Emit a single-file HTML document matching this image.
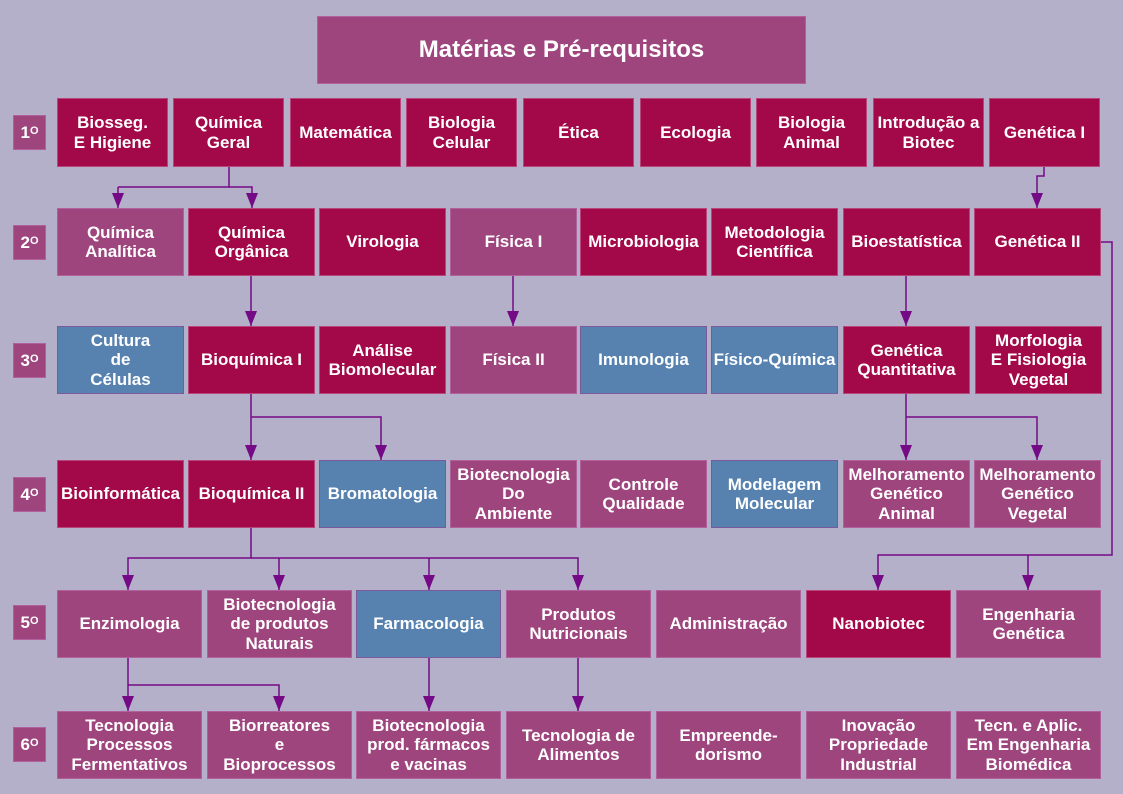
<!DOCTYPE html>
<html><head><meta charset="utf-8"><style>
body{margin:0;width:1123px;height:794px;background:#b4b0c9;position:relative;overflow:hidden;font-family:"Liberation Sans",sans-serif;}
.b{position:absolute;box-sizing:border-box;border:1px solid #b35a8c;color:#fff;font-weight:bold;font-size:17px;line-height:19.5px;display:flex;align-items:center;justify-content:center;text-align:center;white-space:nowrap;}
.d{background:#a30849;border-color:#b8467a}
.l{background:#9e457e;border-color:#b0609a}
.u{background:#5782b0;border-color:#7a5a9a}
.s{position:absolute;left:13px;width:33px;height:35px;background:#9e457e;border:1px solid #b0609a;box-sizing:border-box;color:#fff;font-weight:bold;font-size:17px;display:flex;align-items:center;justify-content:center}
.s sup{font-size:11px;position:relative;top:-2px}
svg{position:absolute;left:0;top:0}
</style></head><body>
<div class="b l" style="left:317px;top:16px;width:489px;height:68px;font-size:24px">Matérias e Pré-requisitos</div>

<div class="s" style="top:115px">1<sup>O</sup></div>
<div class="s" style="top:225px">2<sup>O</sup></div>
<div class="s" style="top:343px">3<sup>O</sup></div>
<div class="s" style="top:477px">4<sup>O</sup></div>
<div class="s" style="top:605px">5<sup>O</sup></div>
<div class="s" style="top:727px">6<sup>O</sup></div>

<!-- row1 -->
<div class="b d" style="left:57px;top:98px;width:111px;height:69px">Biosseg.<br>E Higiene</div>
<div class="b d" style="left:173px;top:98px;width:111px;height:69px">Química<br>Geral</div>
<div class="b d" style="left:290px;top:98px;width:111px;height:69px">Matemática</div>
<div class="b d" style="left:406px;top:98px;width:111px;height:69px">Biologia<br>Celular</div>
<div class="b d" style="left:523px;top:98px;width:111px;height:69px">Ética</div>
<div class="b d" style="left:640px;top:98px;width:111px;height:69px">Ecologia</div>
<div class="b d" style="left:756px;top:98px;width:111px;height:69px">Biologia<br>Animal</div>
<div class="b d" style="left:873px;top:98px;width:111px;height:69px">Introdução a<br>Biotec</div>
<div class="b d" style="left:989px;top:98px;width:111px;height:69px">Genética I</div>
<!-- row2 -->
<div class="b l" style="left:57px;top:208px;width:127px;height:68px">Química<br>Analítica</div>
<div class="b d" style="left:188px;top:208px;width:127px;height:68px">Química<br>Orgânica</div>
<div class="b d" style="left:319px;top:208px;width:127px;height:68px">Virologia</div>
<div class="b l" style="left:450px;top:208px;width:127px;height:68px">Física I</div>
<div class="b d" style="left:580px;top:208px;width:127px;height:68px">Microbiologia</div>
<div class="b d" style="left:711px;top:208px;width:127px;height:68px">Metodologia<br>Científica</div>
<div class="b d" style="left:843px;top:208px;width:127px;height:68px">Bioestatística</div>
<div class="b d" style="left:974px;top:208px;width:127px;height:68px">Genética II</div>
<!-- row3 -->
<div class="b u" style="left:57px;top:326px;width:127px;height:68px">Cultura<br>de<br>Células</div>
<div class="b d" style="left:188px;top:326px;width:127px;height:68px">Bioquímica I</div>
<div class="b d" style="left:319px;top:326px;width:127px;height:68px">Análise<br>Biomolecular</div>
<div class="b l" style="left:450px;top:326px;width:127px;height:68px">Física II</div>
<div class="b u" style="left:580px;top:326px;width:127px;height:68px">Imunologia</div>
<div class="b u" style="left:711px;top:326px;width:127px;height:68px">Físico-Química</div>
<div class="b d" style="left:843px;top:326px;width:127px;height:68px">Genética<br>Quantitativa</div>
<div class="b d" style="left:975px;top:326px;width:127px;height:68px">Morfologia<br>E Fisiologia<br>Vegetal</div>
<!-- row4 -->
<div class="b d" style="left:57px;top:460px;width:127px;height:68px">Bioinformática</div>
<div class="b d" style="left:188px;top:460px;width:127px;height:68px">Bioquímica II</div>
<div class="b u" style="left:319px;top:460px;width:127px;height:68px">Bromatologia</div>
<div class="b l" style="left:450px;top:460px;width:127px;height:68px">Biotecnologia<br>Do<br>Ambiente</div>
<div class="b l" style="left:580px;top:460px;width:127px;height:68px">Controle<br>Qualidade</div>
<div class="b u" style="left:711px;top:460px;width:127px;height:68px">Modelagem<br>Molecular</div>
<div class="b l" style="left:843px;top:460px;width:127px;height:68px">Melhoramento<br>Genético<br>Animal</div>
<div class="b l" style="left:974px;top:460px;width:127px;height:68px">Melhoramento<br>Genético<br>Vegetal</div>
<!-- row5 -->
<div class="b l" style="left:57px;top:590px;width:145px;height:68px">Enzimologia</div>
<div class="b l" style="left:207px;top:590px;width:145px;height:68px">Biotecnologia<br>de produtos<br>Naturais</div>
<div class="b u" style="left:356px;top:590px;width:145px;height:68px">Farmacologia</div>
<div class="b l" style="left:506px;top:590px;width:145px;height:68px">Produtos<br>Nutricionais</div>
<div class="b l" style="left:656px;top:590px;width:145px;height:68px">Administração</div>
<div class="b d" style="left:806px;top:590px;width:145px;height:68px">Nanobiotec</div>
<div class="b l" style="left:956px;top:590px;width:145px;height:68px">Engenharia<br>Genética</div>
<!-- row6 -->
<div class="b l" style="left:57px;top:711px;width:145px;height:68px">Tecnologia<br>Processos<br>Fermentativos</div>
<div class="b l" style="left:207px;top:711px;width:145px;height:68px">Biorreatores<br>e<br>Bioprocessos</div>
<div class="b l" style="left:356px;top:711px;width:145px;height:68px">Biotecnologia<br>prod. fármacos<br>e vacinas</div>
<div class="b l" style="left:506px;top:711px;width:145px;height:68px">Tecnologia de<br>Alimentos</div>
<div class="b l" style="left:656px;top:711px;width:145px;height:68px">Empreende-<br>dorismo</div>
<div class="b l" style="left:806px;top:711px;width:145px;height:68px">Inovação<br>Propriedade<br>Industrial</div>
<div class="b l" style="left:956px;top:711px;width:145px;height:68px">Tecn. e Aplic.<br>Em Engenharia<br>Biomédica</div>

<svg width="1123" height="794">
<defs><marker id="a" markerWidth="15" markerHeight="12" refX="15" refY="6" orient="auto" markerUnits="userSpaceOnUse" viewBox="0 0 15 12"><path d="M0,0 L15,6 L0,12 Z" fill="#740a85"/></marker></defs>
<g stroke="#740a85" stroke-width="1.5" fill="none">
<path d="M229,167 V187 H118"/><path d="M118,187 V208" marker-end="url(#a)"/><path d="M229,187 H252 V208" marker-end="url(#a)"/>
<path d="M1044,167 V176 H1037 V208" marker-end="url(#a)"/>
<path d="M1101,242 H1112 V555 H878 V590" marker-end="url(#a)"/><path d="M1028,555 V590" marker-end="url(#a)"/>
<path d="M251,276 V326" marker-end="url(#a)"/>
<path d="M513,276 V326" marker-end="url(#a)"/>
<path d="M906,276 V326" marker-end="url(#a)"/>
<path d="M906,394 V460" marker-end="url(#a)"/><path d="M906,417 H1037 V460" marker-end="url(#a)"/>
<path d="M251,394 V460" marker-end="url(#a)"/><path d="M251,417 H381 V460" marker-end="url(#a)"/>
<path d="M251,528 V558 H128 V590" marker-end="url(#a)"/><path d="M251,558 H578 V590" marker-end="url(#a)"/>
<path d="M279,558 V590" marker-end="url(#a)"/><path d="M429,558 V590" marker-end="url(#a)"/>
<path d="M128,658 V711" marker-end="url(#a)"/><path d="M128,685 H279 V711" marker-end="url(#a)"/>
<path d="M429,658 V711" marker-end="url(#a)"/>
<path d="M578,658 V711" marker-end="url(#a)"/>
</g></svg>
</body></html>
